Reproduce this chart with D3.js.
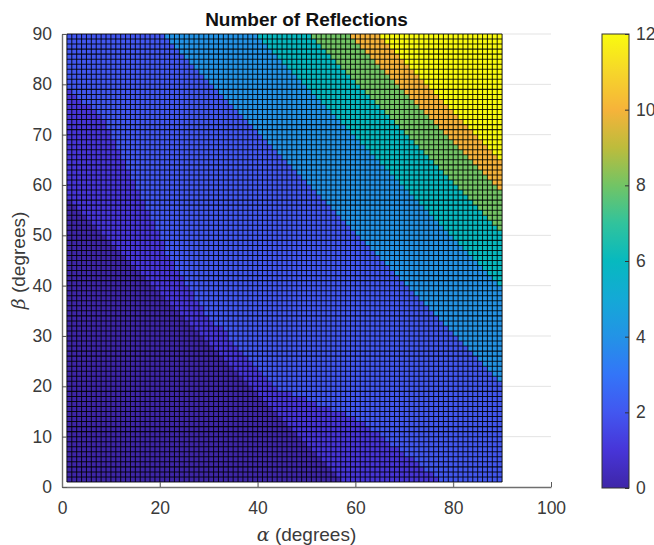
<!DOCTYPE html>
<html>
<head>
<meta charset="utf-8">
<script src="https://cdn.jsdelivr.net/npm/d3@7"></script>
<style>
  body { margin: 0; background: #fff; }
  svg { display: block; font-family: "Liberation Sans", Arial, sans-serif; }
</style>
</head>
<body>
<div id="chart"></div>
<script>
// grid sample points (degrees)
const alphaGrid = d3.range(1, 91);
const betaGrid = d3.range(1, 91);

// reflection count of each band, from the lower-left corner outwards
const bandCounts = [0, 1, 2, 4, 6, 8, 10, 12];
// alpha+beta where the darkest band ends
const darkEdge = 58;
// wavy edge between the 1 band and the 2 band, [alpha, beta]
const lowEdge = [[0, 79], [8, 73], [21, 46], [29, 34], [44, 19], [60, 13], [78, 0], [90, -12]];
// alpha+beta where the upper bands start (4, 6, 8, 10, 12)
const sumEdges = [110, 129, 140, 148, 154];

const xTicks = [0, 20, 40, 60, 80, 100];
const yTicks = [0, 10, 20, 30, 40, 50, 60, 70, 80, 90];
const cbTicks = [0, 2, 4, 6, 8, 10, 12];

// parula-like colormap, one colour per unit from 0 to 12
const parulaStops = ["#3e26a8", "#4735d8", "#4257f0", "#3375f8", "#2393e6", "#14a9d6",
  "#07b9bf", "#31c39c", "#72c465", "#bdbc3c", "#f6b33a", "#f6d62a", "#f9fb0e"];

const width = 654, height = 545;
const svg = d3.select("#chart").append("svg")
  .attr("width", width)
  .attr("height", height);

const x = d3.scaleLinear().domain([0, 100]).range([62, 551]);
const y = d3.scaleLinear().domain([0, 90]).range([487, 34]);
const color = d3.scaleLinear()
  .domain(d3.range(0, 13))
  .range(parulaStops)
  .interpolate(d3.interpolateRgb)
  .clamp(true);

const edgeBeta = d3.scaleLinear()
  .domain(lowEdge.map(d => d[0]))
  .range(lowEdge.map(d => d[1]));

// band index for a grid point
function bandAt(a, b) {
  const s = a + b;
  let k = 0;
  if (s >= darkEdge) k = 1;
  if (b >= edgeBeta(a)) k = 2;
  sumEdges.forEach(e => { if (s >= e) k += 1; });
  return k;
}

// gridlines
const grid = svg.append("g").attr("stroke", "#e3e3e3").attr("stroke-width", 1);
yTicks.filter(t => t > 0).forEach(t => {
  grid.append("line")
    .attr("x1", x(0)).attr("x2", x(100))
    .attr("y1", y(t)).attr("y2", y(t));
});
xTicks.filter(t => t > 0 && t < 100).forEach(t => {
  grid.append("line")
    .attr("x1", x(t)).attr("x2", x(t))
    .attr("y1", y(0)).attr("y2", y(90));
});

// pcolor cells: each cell takes the value at its lower-left corner
const cells = [];
for (let i = 0; i < alphaGrid.length - 1; i++) {
  for (let j = 0; j < betaGrid.length - 1; j++) {
    cells.push({
      a0: alphaGrid[i], a1: alphaGrid[i + 1],
      b0: betaGrid[j], b1: betaGrid[j + 1],
      v: bandCounts[bandAt(alphaGrid[i], betaGrid[j])]
    });
  }
}

svg.append("g")
  .attr("shape-rendering", "crispEdges")
  .selectAll("rect")
  .data(cells)
  .join("rect")
  .attr("x", d => x(d.a0))
  .attr("y", d => y(d.b1))
  .attr("width", d => x(d.a1) - x(d.a0) + 0.3)
  .attr("height", d => y(d.b0) - y(d.b1) + 0.3)
  .attr("fill", d => color(d.v));

// black cell edges
const edges = svg.append("g").attr("stroke", "#000").attr("stroke-width", 1.05).attr("stroke-opacity", 0.85);
alphaGrid.forEach(a => {
  edges.append("line")
    .attr("x1", x(a)).attr("x2", x(a))
    .attr("y1", y(betaGrid[0])).attr("y2", y(betaGrid[betaGrid.length - 1]));
});
betaGrid.forEach(b => {
  edges.append("line")
    .attr("x1", x(alphaGrid[0])).attr("x2", x(alphaGrid[alphaGrid.length - 1]))
    .attr("y1", y(b)).attr("y2", y(b));
});

// axes
const xAxis = d3.axisBottom(x).tickValues(xTicks).tickSizeInner(-5).tickSizeOuter(0).tickPadding(15);
const yAxis = d3.axisLeft(y).tickValues(yTicks).tickSizeInner(-5).tickSizeOuter(0).tickPadding(10);

const gx = svg.append("g").attr("transform", `translate(0,${y(0)})`).call(xAxis);
const gy = svg.append("g").attr("transform", `translate(${x(0)},0)`).call(yAxis);
[gx, gy].forEach(g => {
  g.select(".domain").attr("stroke", "#6f6f6f").attr("stroke-width", 1.4);
  g.selectAll(".tick line").attr("stroke", "#5a5a5a").attr("stroke-width", 1);
  g.selectAll(".tick text").attr("fill", "#3a3a3a").attr("font-size", 17.5)
    .attr("font-family", "'Liberation Sans', Arial, sans-serif");
});

// title and labels
svg.append("text")
  .attr("x", (x(0) + x(100)) / 2).attr("y", 26)
  .attr("text-anchor", "middle")
  .attr("font-size", 19).attr("font-weight", "bold").attr("fill", "#111")
  .text("Number of Reflections");

const xl = svg.append("text")
  .attr("x", (x(0) + x(100)) / 2).attr("y", 541)
  .attr("text-anchor", "middle")
  .attr("font-size", 19).attr("fill", "#3a3a3a");
xl.append("tspan").attr("font-family", "'DejaVu Serif', serif").attr("font-style", "italic").text("α");
xl.append("tspan").text(" (degrees)");

const yl = svg.append("text")
  .attr("transform", `translate(25,${(y(0) + y(90)) / 2}) rotate(-90)`)
  .attr("text-anchor", "middle")
  .attr("font-size", 19).attr("fill", "#3a3a3a");
yl.append("tspan").attr("font-family", "'DejaVu Serif', serif").attr("font-style", "italic").text("β");
yl.append("tspan").text(" (degrees)");

// colorbar
const cb = d3.scaleLinear().domain([0, 12]).range([488, 34]);
const cbX = 602, cbW = 27;
const grad = svg.append("defs").append("linearGradient")
  .attr("id", "cbgrad")
  .attr("x1", 0).attr("y1", 1).attr("x2", 0).attr("y2", 0);
parulaStops.forEach((c, i) => {
  grad.append("stop").attr("offset", i / 12).attr("stop-color", c);
});
svg.append("rect")
  .attr("x", cbX).attr("y", cb(12))
  .attr("width", cbW).attr("height", cb(0) - cb(12))
  .attr("fill", "url(#cbgrad)")
  .attr("stroke", "#333").attr("stroke-width", 1);

const cbAxis = d3.axisRight(cb).tickValues(cbTicks).tickSizeInner(-4).tickSizeOuter(0).tickPadding(7);
const gcb = svg.append("g").attr("transform", `translate(${cbX + cbW},0)`).call(cbAxis);
gcb.select(".domain").remove();
gcb.selectAll(".tick line").attr("stroke", "#333");
gcb.selectAll(".tick text").attr("fill", "#3a3a3a").attr("font-size", 17.5)
  .attr("font-family", "'Liberation Sans', Arial, sans-serif");
</script>
</body>
</html>
